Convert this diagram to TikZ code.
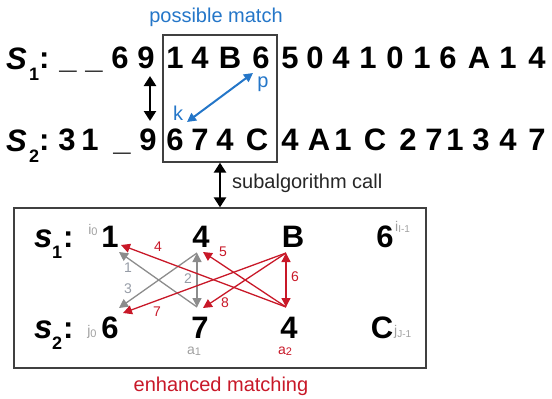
\documentclass[tikz,border=0pt]{standalone}
\usepackage{fontspec}
\setmainfont{Liberation Sans}
\usetikzlibrary{arrows.meta}
\definecolor{pblue}{RGB}{36,118,200}
\definecolor{ered}{RGB}{200,24,40}
\definecolor{agray}{RGB}{140,140,140}
\definecolor{lgray}{RGB}{160,160,160}
\definecolor{ngray}{RGB}{150,156,166}
\definecolor{bordergray}{RGB}{64,64,64}
\begin{document}
\begin{tikzpicture}[x=1pt,y=-1pt,
  ch/.style={inner sep=0pt,anchor=base,font=\fontsize{31}{31}\selectfont\bfseries},
  bch/.style={inner sep=0pt,anchor=base,font=\fontsize{31}{31}\selectfont\bfseries},
  bigS/.style={inner sep=0pt,anchor=base west,font=\fontsize{31}{31}\selectfont\bfseries\itshape},
  smalls/.style={inner sep=0pt,anchor=base west,font=\fontsize{33}{33}\selectfont\bfseries\itshape},
  subnum/.style={inner sep=0pt,anchor=base west,font=\fontsize{18}{18}\selectfont\bfseries},
  colonc/.style={inner sep=0pt,anchor=base west,font=\fontsize{31}{31}\selectfont\bfseries},
  idx/.style={inner sep=0pt,font=\fontsize{14}{14}\selectfont},
  capt/.style={inner sep=0pt,font=\fontsize{20}{20}\selectfont},
  alab/.style={inner sep=0pt,font=\fontsize{14}{14}\selectfont},
  fatarrow/.style={line width=2.5pt,{Triangle[length=10pt,width=12pt]}-{Triangle[length=10pt,width=12pt]}},
  bluearrow/.style={draw=pblue,line width=2pt,{Triangle[length=9pt,width=9pt]}-{Triangle[length=9pt,width=9pt]}},
  garrow/.style={draw=agray,line width=1.3pt,-{Triangle[length=9pt,width=9pt]}},
  gdarrow/.style={draw=agray,line width=1.3pt,{Triangle[length=9pt,width=9pt]}-{Triangle[length=9pt,width=9pt]}},
  rarrow/.style={draw=ered,line width=1.3pt,-{Triangle[length=9pt,width=9pt]}},
  rdarrow/.style={draw=ered,line width=1.3pt,{Triangle[length=9pt,width=9pt]}-{Triangle[length=9pt,width=9pt]}},
  boxst/.style={draw=bordergray,line width=1.3pt,inner sep=0pt}
]
\useasboundingbox (0,0) rectangle (552,399);

% top labels
\node[bigS] (S1) at (6,69.5) {S};
\node[subnum] (S1n) at (29,80) {1};
\node[colonc] (S1c) at (39,68.5) {:};
\node[bigS] (S2) at (6,151) {S};
\node[subnum] (S2n) at (29,162) {2};
\node[colonc] (S2c) at (39,150) {:};

% row 1
\foreach \x/\c [count=\i] in {68/\_,94/\_,120/6,146/9,175/1,200/4,230/B,261/6,290/5,315/0,341/4,368/1,395/0,422/1,448/6,479/A,508/1,537/4}
  \node[ch] (ra\i) at (\x,68.5) {\c};
% row 2
\foreach \x/\c [count=\i] in {67/3,90/1,122/\_,148/9,175/6,200/7,225/4,257/C,290/4,319/A,343/1,375/C,408/2,434/7,455/1,481/3,508/4,537/7}
  \node[ch] (rb\i) at (\x,150) {\c};

% possible match box
\node[boxst,minimum width=114pt,minimum height=127pt] (pm) at (220,98.5) {};
\node[capt,text=pblue] (pmt) at (216,17) {possible match};

% arrow between rows
\coordinate (ua) at (150,76);
\coordinate (ub) at (150,121);
\draw[fatarrow] (ua) -- (ub);

% blue arrow
\coordinate (bp) at (253,73);
\coordinate (bk) at (187,122);
\draw[bluearrow] (bk) -- (bp);
\node[capt,text=pblue,anchor=base] (pl) at (263,87) {p};
\node[capt,text=pblue,anchor=base] (kl) at (178,120) {k};

% enhanced matching box
\node[boxst,minimum width=412pt,minimum height=160pt] (em) at (220,288) {};
\draw[fatarrow] (pm.south) -- (em.north);
\node[capt,anchor=west,text=black!85] (sc) at (232,183) {subalgorithm call};
\node[capt,text=ered] (emt) at (221,386) {enhanced matching};

% bottom labels
\node[smalls] (s1) at (34,247) {s};
\node[subnum] (s1n) at (52,258) {1};
\node[colonc] (s1c) at (63,247) {:};
\node[smalls] (s2) at (34,338) {s};
\node[subnum] (s2n) at (52,349) {2};
\node[colonc] (s2c) at (63,338) {:};

% bottom chars
\node[bch] (b1) at (110,247) {1};
\node[bch] (b2) at (201,247) {4};
\node[bch] (b3) at (293,247) {B};
\node[bch] (b4) at (385,247) {6};
\node[bch] (c1) at (110,338) {6};
\node[bch] (c2) at (200,338) {7};
\node[bch] (c3) at (289,338) {4};
\node[bch] (c4) at (382,338) {C};

% indices
\node[idx,text=lgray] (i0) at (93,230) {i\raisebox{-1.5pt}{\fontsize{11}{11}\selectfont 0}};
\node[idx,text=lgray,anchor=west] (il) at (395,227) {i\raisebox{-1.5pt}{\fontsize{10}{10}\selectfont I-1}};
\node[idx,text=lgray] (j0) at (92,332) {j\raisebox{-1.5pt}{\fontsize{11}{11}\selectfont 0}};
\node[idx,text=lgray,anchor=west] (jl) at (394,332) {j\raisebox{-1.5pt}{\fontsize{10}{10}\selectfont J-1}};
\node[idx,text=lgray] (a1) at (194,351) {a\raisebox{-1.5pt}{\fontsize{11}{11}\selectfont 1}};
\node[idx,text=ered] (a2) at (285,351) {a\raisebox{-1.5pt}{\fontsize{11}{11}\selectfont 2}};

% inner arrow end points
\coordinate (L1) at (119,252);
\coordinate (L2) at (121,245);
\coordinate (L3) at (119,308);
\coordinate (L4) at (123,313);
\coordinate (M1) at (197,253);
\coordinate (M2) at (197,307);
\coordinate (M3) at (203,252);
\coordinate (M4) at (203,308);
\coordinate (R1) at (286,253);
\coordinate (R2) at (286,307);

% gray arrows
\draw[garrow] (M2) -- (L1);
\draw[gdarrow] (M1) -- (M2);
\draw[garrow] (M1) -- (L3);
% red arrows
\draw[rarrow] (R2) -- (L2);
\draw[rarrow] (R2) -- (M3);
\draw[rdarrow] (R1) -- (R2);
\draw[rarrow] (R1) -- (L4);
\draw[rarrow] (R1) -- (M4);

% arrow labels
\node[alab,text=ngray] (n1) at (128,268) {1};
\node[alab,text=ngray] (n2) at (188,279) {2};
\node[alab,text=ngray] (n3) at (128,289) {3};
\node[alab,text=ered] (n4) at (158,247) {4};
\node[alab,text=ered] (n5) at (223,252) {5};
\node[alab,text=ered] (n6) at (295,277) {6};
\node[alab,text=ered] (n7) at (157,312) {7};
\node[alab,text=ered] (n8) at (225,303) {8};
\end{tikzpicture}
\end{document}
